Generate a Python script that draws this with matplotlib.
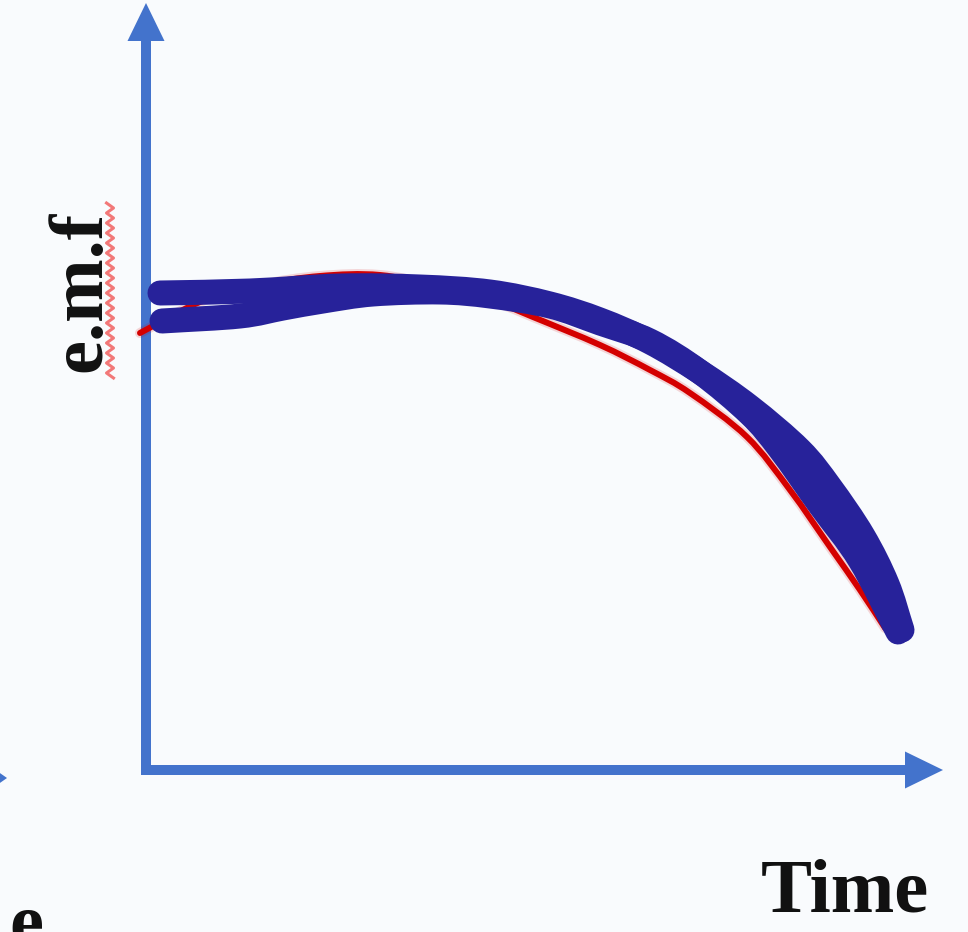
import numpy as np
import matplotlib
matplotlib.use("Agg")
import matplotlib.pyplot as plt
from matplotlib.patches import FancyArrow, PathPatch
from matplotlib.path import Path

# e.m.f against time: ideal discharge curve (red) and hand-drawn trace (blue, two strokes)
ideal_time = [-0.06, 0.54, 1.14, 1.74, 2.34, 2.94, 3.54, 3.87, 4.54, 5.04, 5.44, 6.01, 6.44, 6.84, 7.14, 7.39]
ideal_emf = [4.37, 4.68, 4.85, 4.94, 4.95, 4.83, 4.66, 4.53, 4.25, 4.00, 3.77, 3.33, 2.80, 2.23, 1.80, 1.42]

upper_time = [0.14, 1.04, 1.94, 2.74, 3.44, 4.04, 4.54, 5.04, 5.54, 6.04, 6.54, 6.84, 7.17, 7.41, 7.56]
upper_emf = [4.77, 4.79, 4.84, 4.83, 4.78, 4.66, 4.50, 4.28, 3.98, 3.63, 3.20, 2.83, 2.34, 1.86, 1.40]

lower_time = [0.16, 0.94, 1.37, 1.77, 2.27, 2.94, 3.44, 4.04, 4.54, 5.04, 5.54, 6.04, 6.34, 6.74, 7.14, 7.52]
lower_emf = [4.49, 4.54, 4.62, 4.69, 4.76, 4.78, 4.74, 4.64, 4.47, 4.29, 3.98, 3.56, 3.21, 2.65, 2.10, 1.38]

x_label = "Time"
y_label = "e.m.f"

AXIS_BLUE = "#4373cc"
TRACE_BLUE = "#27229a"
IDEAL_RED = "#d40000"
PX = 0.72  # points per pixel at 100 dpi


def smooth_path(xs, ys):
    """Catmull-Rom curve through the given points, as cubic Bezier segments."""
    p = np.column_stack([xs, ys]).astype(float)
    ext = np.vstack([2 * p[0] - p[1], p, 2 * p[-1] - p[-2]])
    verts = [p[0]]
    codes = [Path.MOVETO]
    for i in range(1, len(ext) - 2):
        c1 = ext[i] + (ext[i + 1] - ext[i - 1]) / 6
        c2 = ext[i + 1] - (ext[i + 2] - ext[i]) / 6
        verts += [c1, c2, ext[i + 1]]
        codes += [Path.CURVE4] * 3
    return Path(verts, codes)


def stroke(ax, xs, ys, color, width_px, alpha=1.0):
    ax.add_patch(PathPatch(smooth_path(xs, ys), facecolor="none",
                           edgecolor=color, lw=width_px * PX, alpha=alpha,
                           capstyle="round", joinstyle="round"))


fig = plt.figure(figsize=(9.68, 9.32), dpi=100, facecolor="#f9fbfd")
ax = fig.add_axes([0, 0, 1, 1])
ax.set_facecolor("#f9fbfd")
ax.set_xlim(-1.46, 8.22)
ax.set_ylim(-1.62, 7.70)
ax.axis("off")

# arrowed axes
ax.add_patch(FancyArrow(0, -0.05, 0, 7.72, width=0.10, head_width=0.37,
                        head_length=0.38, length_includes_head=True,
                        color=AXIS_BLUE, lw=0))
ax.add_patch(FancyArrow(-0.05, 0, 8.02, 0, width=0.10, head_width=0.37,
                        head_length=0.38, length_includes_head=True,
                        color=AXIS_BLUE, lw=0))
# edge of a neighbouring arrow
ax.add_patch(FancyArrow(-1.60, -0.08, 0.21, 0, width=0.10, head_width=0.14,
                        head_length=0.10, length_includes_head=True,
                        color=AXIS_BLUE, lw=0, clip_on=False))

# ideal curve with a soft edge
stroke(ax, ideal_time, ideal_emf, IDEAL_RED, 10, alpha=0.15)
stroke(ax, ideal_time, ideal_emf, IDEAL_RED, 6)

# hand-drawn trace
stroke(ax, upper_time, upper_emf, TRACE_BLUE, 25)
stroke(ax, lower_time, lower_emf, TRACE_BLUE, 25)

font = dict(family=["Liberation Serif", "DejaVu Serif"], weight="bold",
            size=55, color="#111111")
ax.text(-0.46, 4.79, y_label, rotation=90, rotation_mode="anchor",
        ha="center", va="baseline", **font)
ax.text(6.99, -1.42, x_label, ha="center", va="baseline", **font)
ax.text(-1.20, -1.76, "e", ha="center", va="baseline", clip_on=False, **font)

# spell-check squiggle under the axis label
sq_y = np.linspace(3.92, 5.67, 36)
sq_x = -0.36 + 0.035 * np.where(np.arange(sq_y.size) % 2 == 0, 1, -1)
ax.plot(sq_x, sq_y, color="#f26a6a", lw=2.2, alpha=0.9)

fig.savefig("out.png", dpi=100, facecolor=fig.get_facecolor())
